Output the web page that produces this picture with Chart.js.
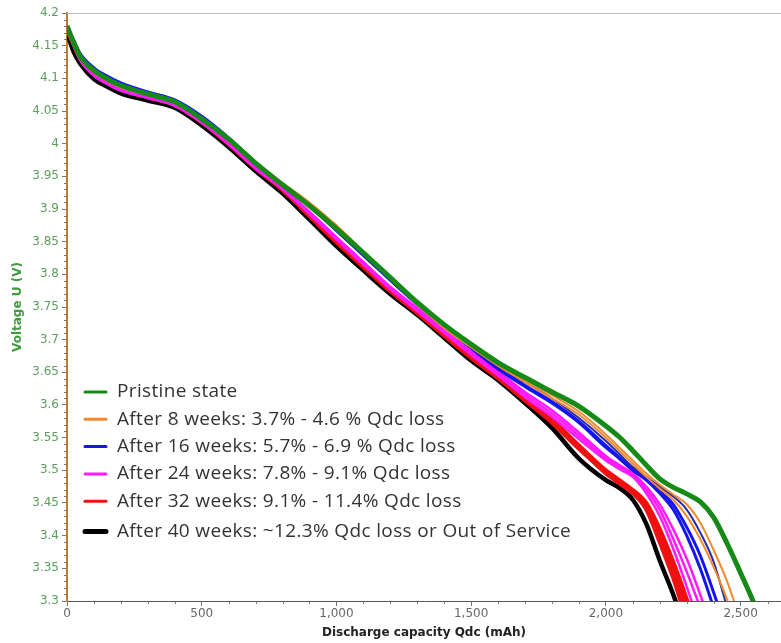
<!DOCTYPE html>
<html>
<head>
<meta charset="utf-8">
<script src="https://cdn.jsdelivr.net/npm/chart.js@4"></script>
<style>
  html, body { margin: 0; padding: 0; background: #fff; }
  #wrap { width: 781px; height: 643px; }
</style>
</head>
<body>
<div id="wrap"><canvas id="chart" width="781" height="643"></canvas></div>
<script>
// discharge capacity grid (mAh), shared by every curve
const capacity = [0, 25, 50, 100, 150, 200, 300, 400, 500, 600, 700, 800, 900, 1000, 1100, 1200, 1300, 1400,
  1500, 1600, 1700, 1800, 1900, 2000, 2050, 2100, 2150, 2200, 2250, 2300, 2350, 2400, 2450, 2500, 2550, 2600];

// voltage (V) at each capacity point
const pristine = [4.18, 4.155, 4.133, 4.112, 4.099, 4.089, 4.076, 4.064, 4.038, 4.007, 3.970, 3.937, 3.905, 3.870, 3.833, 3.795, 3.757, 3.723,
  3.693, 3.665, 3.642, 3.620, 3.598, 3.568, 3.551, 3.530, 3.508, 3.487, 3.474, 3.464, 3.452, 3.428, 3.388, 3.343, 3.296, 3.24];

const week8a = [4.178, 4.153, 4.131, 4.11, 4.097, 4.087, 4.075, 4.063, 4.037, 4.006, 3.971, 3.94, 3.910, 3.875, 3.835, 3.795, 3.756, 3.72,
  3.69, 3.662, 3.638, 3.615, 3.59, 3.555, 3.535, 3.515, 3.495, 3.478, 3.463, 3.448, 3.42, 3.378, 3.33, 3.27];
const week8b = [4.177, 4.152, 4.13, 4.109, 4.096, 4.086, 4.074, 4.062, 4.036, 4.005, 3.970, 3.939, 3.908, 3.873, 3.833, 3.793, 3.754, 3.718,
  3.688, 3.66, 3.635, 3.61, 3.585, 3.55, 3.53, 3.51, 3.49, 3.472, 3.455, 3.43, 3.395, 3.352, 3.302, 3.24];

const week16a = [4.18, 4.158, 4.137, 4.116, 4.103, 4.093, 4.079, 4.067, 4.042, 4.009, 3.971, 3.937, 3.905, 3.868, 3.830, 3.792, 3.755, 3.72,
  3.687, 3.655, 3.628, 3.603, 3.573, 3.535, 3.518, 3.50, 3.485, 3.465, 3.44, 3.40, 3.35, 3.29];
const week16b = [4.179, 4.157, 4.136, 4.115, 4.102, 4.092, 4.078, 4.066, 4.041, 4.008, 3.970, 3.936, 3.904, 3.867, 3.829, 3.791, 3.754, 3.72,
  3.688, 3.657, 3.63, 3.605, 3.575, 3.538, 3.52, 3.502, 3.487, 3.468, 3.448, 3.413, 3.37, 3.313, 3.25];
const week16c = [4.178, 4.156, 4.135, 4.114, 4.101, 4.091, 4.077, 4.065, 4.04, 4.007, 3.969, 3.936, 3.905, 3.868, 3.83, 3.792, 3.755, 3.721,
  3.69, 3.66, 3.635, 3.61, 3.58, 3.545, 3.525, 3.505, 3.49, 3.475, 3.46, 3.44, 3.405, 3.36, 3.29];

const week24a = [4.175, 4.15, 4.127, 4.104, 4.091, 4.081, 4.07, 4.058, 4.032, 3.999, 3.962, 3.93, 3.892, 3.853, 3.815, 3.777, 3.744, 3.71,
  3.677, 3.645, 3.612, 3.582, 3.548, 3.515, 3.502, 3.49, 3.465, 3.43, 3.38, 3.322, 3.26];
const week24b = [4.175, 4.15, 4.128, 4.105, 4.092, 4.082, 4.071, 4.059, 4.033, 4.0, 3.963, 3.931, 3.894, 3.855, 3.817, 3.779, 3.746, 3.712,
  3.679, 3.648, 3.616, 3.587, 3.553, 3.518, 3.505, 3.492, 3.47, 3.44, 3.395, 3.345, 3.29];
const week24c = [4.176, 4.151, 4.129, 4.106, 4.093, 4.083, 4.072, 4.06, 4.034, 4.001, 3.964, 3.932, 3.896, 3.857, 3.819, 3.781, 3.748, 3.714,
  3.682, 3.651, 3.62, 3.592, 3.558, 3.522, 3.508, 3.495, 3.475, 3.448, 3.41, 3.365, 3.31, 3.25];

const week32a = [4.175, 4.152, 4.13, 4.107, 4.094, 4.084, 4.072, 4.06, 4.034, 4.0, 3.963, 3.93, 3.890, 3.850, 3.812, 3.775, 3.742, 3.707,
  3.673, 3.642, 3.608, 3.575, 3.535, 3.495, 3.48, 3.465, 3.44, 3.39, 3.335, 3.27];
const week32b = [4.174, 4.151, 4.129, 4.106, 4.093, 4.083, 4.071, 4.059, 4.033, 3.999, 3.962, 3.929, 3.889, 3.849, 3.811, 3.774, 3.741, 3.706,
  3.672, 3.641, 3.607, 3.573, 3.533, 3.497, 3.482, 3.467, 3.445, 3.40, 3.35, 3.288, 3.22];
const week32c = [4.176, 4.153, 4.131, 4.108, 4.095, 4.085, 4.073, 4.061, 4.035, 4.001, 3.964, 3.931, 3.891, 3.851, 3.813, 3.776, 3.743, 3.708,
  3.674, 3.644, 3.61, 3.578, 3.538, 3.50, 3.485, 3.47, 3.45, 3.41, 3.36, 3.303, 3.24];

const week40 = [4.17, 4.14, 4.122, 4.099, 4.087, 4.077, 4.066, 4.055, 4.028, 3.995, 3.958, 3.924, 3.884, 3.843, 3.806, 3.77, 3.738, 3.703,
  3.668, 3.638, 3.603, 3.565, 3.518, 3.485, 3.473, 3.455, 3.418, 3.362, 3.31, 3.25];

const xTicks = [0, 500, 1000, 1500, 2000, 2500];

const legendLabels = [
  "Pristine state",
  "After 8 weeks: 3.7% - 4.6 % Qdc loss",
  "After 16 weeks: 5.7% - 6.9 % Qdc loss",
  "After 24 weeks: 7.8% - 9.1% Qdc loss",
  "After 32 weeks: 9.1% - 11.4% Qdc loss",
  "After 40 weeks: ~12.3% Qdc loss or Out of Service"
];
const legendColors = ["#168a16", "#f28a2e", "#1414f0", "#ff1aff", "#f01010", "#000000"];

// curve -> colour / width, first one ends up drawn on top
const curves = [
  { v: pristine, color: "#168a16", w: 5 },
  { v: week8a, color: "#f28a2e", w: 2 },
  { v: week8b, color: "#f28a2e", w: 2 },
  { v: week16c, color: "#2a2aa8", w: 2 },
  { v: week16a, color: "#1414f0", w: 3 },
  { v: week16b, color: "#1414f0", w: 3 },
  { v: week24a, color: "#ff1aff", w: 2.5 },
  { v: week24b, color: "#ff1aff", w: 2.5 },
  { v: week24c, color: "#ff1aff", w: 2.5 },
  { v: week32a, color: "#f01010", w: 4 },
  { v: week32b, color: "#f01010", w: 4 },
  { v: week32c, color: "#f01010", w: 4 },
  { v: week40, color: "#000000", w: 4.5 }
];

const datasets = curves.map(c => ({
  data: c.v.map((y, i) => ({ x: capacity[i], y: y })),
  borderColor: c.color,
  borderWidth: c.w,
  pointRadius: 0,
  fill: false,
  cubicInterpolationMode: "monotone"
}));

const extras = {
  id: "extras",
  beforeDatasetsDraw(chart) {
    const { ctx, chartArea, scales: { x, y } } = chart;
    ctx.save();
    // top frame line
    ctx.strokeStyle = "#bdbdbd";
    ctx.lineWidth = 1;
    ctx.beginPath();
    ctx.moveTo(chartArea.left, chartArea.top + 0.5);
    ctx.lineTo(chartArea.right, chartArea.top + 0.5);
    ctx.stroke();
    // minor ticks
    ctx.strokeStyle = "#777";
    ctx.beginPath();
    for (let v = 100; v < 2650; v += 100) {
      if (v % 500 === 0) continue;
      const px = Math.round(x.getPixelForValue(v)) + 0.5;
      ctx.moveTo(px, chartArea.bottom);
      ctx.lineTo(px, chartArea.bottom + 3);
    }
    for (let k = 331; k < 420; k++) {
      if (k % 5 === 0) continue;
      const py = Math.round(y.getPixelForValue(k / 100)) + 0.5;
      ctx.moveTo(chartArea.left - 3, py);
      ctx.lineTo(chartArea.left, py);
    }
    ctx.stroke();
    ctx.restore();
  },
  afterDraw(chart) {
    const ctx = chart.ctx;
    ctx.save();
    ctx.font = "19px 'Open Sans'";
    ctx.letterSpacing = "0.35px";
    ctx.textBaseline = "middle";
    legendLabels.forEach((t, i) => {
      const cy = 392 + i * 27.3 + (i === 5 ? 3 : 0);
      ctx.strokeStyle = legendColors[i];
      ctx.lineWidth = i === 5 ? 5 : 3;
      ctx.lineCap = "round";
      ctx.beginPath();
      ctx.moveTo(85, cy);
      ctx.lineTo(106, cy);
      ctx.stroke();
      ctx.fillStyle = "#333";
      ctx.fillText(t, 117, cy);
    });
    ctx.restore();
  }
};

new Chart(document.getElementById("chart"), {
  type: "line",
  data: { datasets: datasets },
  plugins: [extras],
  options: {
    responsive: false,
    animation: false,
    devicePixelRatio: 1,
    layout: { padding: { top: 13, right: 0, left: 0, bottom: 0 } },
    plugins: { legend: { display: false }, tooltip: { enabled: false } },
    scales: {
      x: {
        type: "linear",
        min: 0,
        max: 2650,
        afterBuildTicks: s => { s.ticks = xTicks.map(v => ({ value: v })); },
        afterFit: s => { s.height = 42; },
        grid: { drawOnChartArea: false, tickLength: 5, color: "#777" },
        border: { color: "#555", width: 1 },
        ticks: {
          color: "#666",
          font: { family: "DejaVu Sans", size: 12 },
          padding: 1,
          maxRotation: 0,
          callback: v => v.toLocaleString("en-US")
        },
        title: {
          display: true,
          text: "Discharge capacity Qdc (mAh)",
          color: "#222",
          font: { family: "DejaVu Sans", size: 12, weight: "bold" },
          padding: { top: 0, bottom: 3 }
        }
      },
      y: {
        min: 3.3,
        max: 4.2,
        afterFit: s => { s.width = 67; },
        grid: { drawOnChartArea: false, tickLength: 5, color: "#777" },
        border: { color: "#c47c2a", width: 2 },
        ticks: {
          stepSize: 0.05,
          color: "#5c9e5c",
          font: { family: "DejaVu Sans", size: 12 },
          padding: 3,
          callback: v => String(Math.round(v * 100) / 100)
        },
        title: {
          display: true,
          text: "Voltage U (V)",
          color: "#3f9a3f",
          font: { family: "DejaVu Sans", size: 12, weight: "bold" },
          padding: { top: 11, bottom: 0 }
        }
      }
    }
  }
});
</script>
</body>
</html>
